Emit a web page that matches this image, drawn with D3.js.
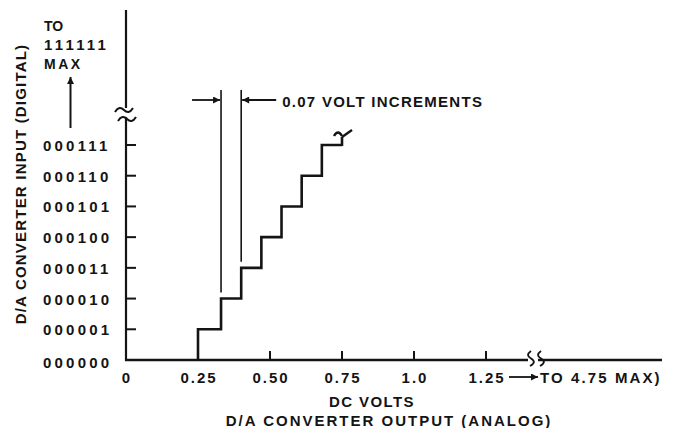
<!DOCTYPE html>
<html><head><meta charset="utf-8">
<script src="https://cdn.jsdelivr.net/npm/d3@7"></script>
<style>
html,body{margin:0;padding:0;background:#fff;}
text{font-family:"Liberation Sans",Arial,sans-serif;font-weight:bold;fill:#141414;}
</style></head>
<body><svg id="c" width="675" height="428"></svg>
<script>
// ---- data ----
const codeLabels = ["000000","000001","000010","000011","000100","000101","000110","000111"];
const stepVolts = [0.25, 0.33, 0.40, 0.47, 0.54, 0.61, 0.68, 0.75]; // voltage where each code level begins / ends
const xTickValues = [0, 0.25, 0.50, 0.75, 1.0, 1.25];
const xTickLabels = ["0","0.25","0.50","0.75","1.0","1.25"];
const xTickMarks = [0.50, 0.75, 1.0, 1.25];
const incrementVolts = [0.33, 0.40];
const topLabels = ["TO","111111","MAX"];

const svg = d3.select("#c");
const ink = "#141414";
const x = d3.scaleLinear().domain([0, 1.25]).range([126, 486]);
const y = d3.scaleLinear().domain([0, 7]).range([360, 145]);

svg.append("rect").attr("width",675).attr("height",428).attr("fill","#fff");

const defs = svg.append("defs");
defs.append("marker").attr("id","ah").attr("viewBox","0 0 10 10").attr("refX",10).attr("refY",5)
  .attr("markerWidth",9).attr("markerHeight",7).attr("markerUnits","userSpaceOnUse").attr("orient","auto")
  .append("path").attr("d","M0,0 L10,5 L0,10 z").attr("fill",ink);

const g = svg.append("g").attr("stroke",ink).attr("fill","none");

// y axis (broken)
g.append("line").attr("x1",x(0)).attr("x2",x(0)).attr("y1",10).attr("y2",108).attr("stroke-width",2.2);
g.append("line").attr("x1",x(0)).attr("x2",x(0)).attr("y1",117).attr("y2",y(0)+1).attr("stroke-width",2.2);
g.append("path").attr("d",`M${x(0)-11},112 c3,-5 6,-5 9,-2 s6,3 9,-2`).attr("stroke-width",2);
g.append("path").attr("d",`M${x(0)-8},121 c3,-5 6,-5 9,-2 s6,3 9,-2`).attr("stroke-width",2);

// y ticks
codeLabels.forEach((c,i)=>{
  if(i>0) g.append("line").attr("x1",x(0)).attr("x2",x(0)+10).attr("y1",y(i)).attr("y2",y(i)).attr("stroke-width",2);
  svg.append("text").attr("x",43).attr("y",y(i)+ (i===0?8:6)).attr("font-size",15).attr("letter-spacing",3.2).text(c);
});

// x axis (broken)
const xBreak = 528;
g.append("line").attr("x1",x(0)-1).attr("x2",xBreak).attr("y1",y(0)).attr("y2",y(0)).attr("stroke-width",2.4);
g.append("line").attr("x1",xBreak+10).attr("x2",662).attr("y1",y(0)).attr("y2",y(0)).attr("stroke-width",2.4);
g.append("path").attr("d",`M${xBreak+3},351 c-4,3 -4,5 0,7.5 s4,4.5 -1,7.5`).attr("stroke-width",1.8);
g.append("path").attr("d",`M${xBreak+13},351 c-4,3 -4,5 0,7.5 s4,4.5 -1,7.5`).attr("stroke-width",1.8);

xTickMarks.forEach(v=>{
  g.append("line").attr("x1",x(v)).attr("x2",x(v)).attr("y1",y(0)).attr("y2",y(0)-9).attr("stroke-width",2);
});
xTickValues.forEach((v,i)=>{
  svg.append("text").attr("x",x(v)+1).attr("y",383).attr("text-anchor","middle").attr("font-size",15).attr("letter-spacing",2).text(xTickLabels[i]);
});

// staircase
const pts = [[stepVolts[0],0]];
stepVolts.forEach((v,i)=>{
  if(i<stepVolts.length-1){
    pts.push([v,i+1]);
    pts.push([stepVolts[i+1],i+1]);
  }
});
const line = d3.line().x(d=>x(d[0])).y(d=>y(d[1]));
g.append("path").attr("d",line(pts)).attr("stroke-width",2.6).attr("stroke-linejoin","miter");
const xe = x(stepVolts[stepVolts.length-1]), ye = y(7);
g.append("line").attr("x1",xe).attr("x2",xe).attr("y1",ye+1).attr("y2",ye-8).attr("stroke-width",2.6);
g.append("path").attr("d",`M${xe-8},${ye-9} q4,-7 8,0`).attr("stroke-width",2.4);
g.append("line").attr("x1",xe).attr("x2",xe+10).attr("y1",ye-8).attr("y2",ye-15).attr("stroke-width",2.4);

// increment annotation
const yTopAnn = 90;
g.append("line").attr("x1",x(incrementVolts[0])).attr("x2",x(incrementVolts[0])).attr("y1",yTopAnn).attr("y2",y(2)-6).attr("stroke-width",1.6);
g.append("line").attr("x1",x(incrementVolts[1])).attr("x2",x(incrementVolts[1])).attr("y1",yTopAnn).attr("y2",y(3)-6).attr("stroke-width",1.6);
g.append("line").attr("x1",x(incrementVolts[0])-29).attr("x2",x(incrementVolts[0])-1).attr("y1",100).attr("y2",100).attr("stroke-width",1.8).attr("marker-end","url(#ah)");
g.append("line").attr("x1",x(incrementVolts[1])+35).attr("x2",x(incrementVolts[1])+1).attr("y1",100).attr("y2",100).attr("stroke-width",1.8).attr("marker-end","url(#ah)");
svg.append("text").attr("x",x(incrementVolts[1])+41).attr("y",106.5).attr("font-size",15).attr("letter-spacing",1.27).text("0.07 VOLT INCREMENTS");

// top labels
topLabels.forEach((t,i)=>{
  svg.append("text").attr("x",44).attr("y",31+i*19).attr("font-size",i===1?15:14).attr("letter-spacing",[0,3.2,2.5][i]).text(t);
});
g.append("line").attr("x1",70.5).attr("x2",70.5).attr("y1",128).attr("y2",77).attr("stroke-width",2).attr("marker-end","url(#ah)");

// right-side note
g.append("line").attr("x1",509).attr("x2",538).attr("y1",377).attr("y2",377).attr("stroke-width",1.8).attr("marker-end","url(#ah)");
svg.append("text").attr("x",540).attr("y",383).attr("font-size",15).attr("letter-spacing",2.1).text("TO 4.75 MAX)");

// axis titles
svg.append("text").attr("x",372).attr("y",407).attr("text-anchor","middle").attr("font-size",15).attr("letter-spacing",1.4).text("DC VOLTS");
svg.append("text").attr("x",389).attr("y",426).attr("text-anchor","middle").attr("font-size",15).attr("letter-spacing",2).text("D/A CONVERTER OUTPUT (ANALOG)");
svg.append("text").attr("transform","translate(26,184) rotate(-90)").attr("text-anchor","middle").attr("font-size",15).attr("letter-spacing",1.2).text("D/A CONVERTER INPUT (DIGITAL)");
</script></body></html>
